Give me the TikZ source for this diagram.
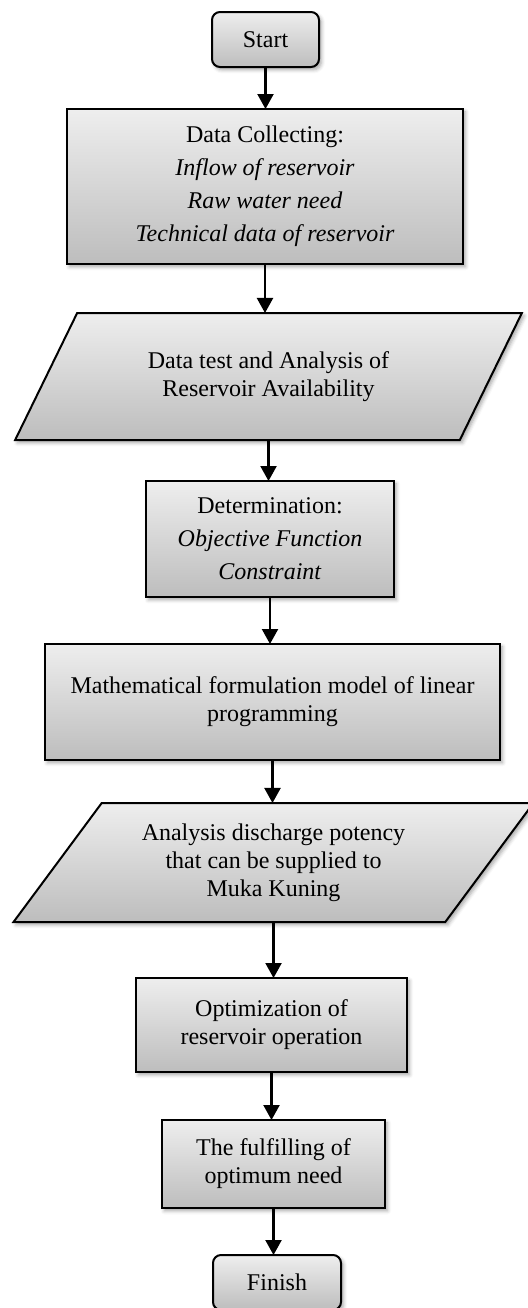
\documentclass[tikz,border=0pt]{standalone}
\usepackage{fontspec}
\setmainfont{Liberation Serif}
\usetikzlibrary{arrows.meta,positioning,shapes.geometric,shadows.blur}
\definecolor{boxtop}{HTML}{EEEEEE}
\definecolor{boxbot}{HTML}{BDBDBD}
\tikzset{flowbox/.style={draw, line width=1pt, top color=boxtop, bottom color=boxbot, inner sep=0, outer sep=0, align=center, font={\fontsize{12}{14}\selectfont}, blur shadow={shadow xshift=1.2pt, shadow yshift=-1.4pt, shadow blur steps=4, shadow opacity=35}}}
\tikzset{term/.style={flowbox, rounded corners=4pt}}
\tikzset{io/.style={flowbox, trapezium, trapezium stretches=true}}
\tikzset{arr/.style={draw, line width=1.1pt, -{Triangle[width=8pt,length=7.5pt]}}}

\begin{document}
\begin{tikzpicture}[x=0.5pt, y=-0.5pt]
	\useasboundingbox (0,0) rectangle (528,1308);
	\node[term, minimum width=53.5pt, minimum height=27.5pt] (start) at (265.5,39.5) {Start};
	\node[flowbox, minimum width=198pt, minimum height=77.5pt] (collect) at (265,186.5) {Data Collecting:\\[2.5pt] \textit{Inflow of reservoir}\\[2.5pt] \textit{Raw water need}\\[2.5pt] \textit{Technical data of reservoir}};
	\node[io, trapezium left angle=52, trapezium right angle=128, minimum width=253.5pt, minimum height=63.5pt] (avail) at (268.5,376.5) {Data test and Analysis of\\ Reservoir Availability};
	\node[flowbox, minimum width=124pt, minimum height=58pt] (determ) at (270,539) {Determination:\\[2.5pt] \textit{Objective Function}\\[2.5pt] \textit{Constraint}};
	\node[flowbox, minimum width=227.5pt, minimum height=58pt] (model) at (272.5,702) {Mathematical formulation model of linear\\ programming};
	\node[io, trapezium left angle=49, trapezium right angle=131, minimum width=260.5pt, minimum height=59.5pt] (potency) at (273.5,862.5) {Analysis discharge potency\\ that can be supplied to\\ Muka Kuning};
	\node[flowbox, minimum width=135.5pt, minimum height=47pt] (optim) at (271.5,1025) {Optimization of\\ reservoir operation};
	\node[flowbox, minimum width=111.5pt, minimum height=44pt] (fulfil) at (273.5,1164) {The fulfilling of\\ optimum need};
	\node[term, minimum width=64pt, minimum height=27.5pt] (finish) at (277,1282.5) {Finish};

	% connectors
	\draw[arr] (start.south) -- (start.south |- collect.north);
	\draw[arr] (collect.south) -- (collect.south |- avail.north);
	\draw[arr] (avail.south) -- (avail.south |- determ.north);
	\draw[arr] (determ.south) -- (determ.south |- model.north);
	\draw[arr] (model.south) -- (model.south |- potency.north);
	\draw[arr] (potency.south) -- (potency.south |- optim.north);
	\draw[arr] (optim.south) -- (optim.south |- fulfil.north);
	\draw[arr] (fulfil.south) -- (fulfil.south |- finish.north);
\end{tikzpicture}
\end{document}
